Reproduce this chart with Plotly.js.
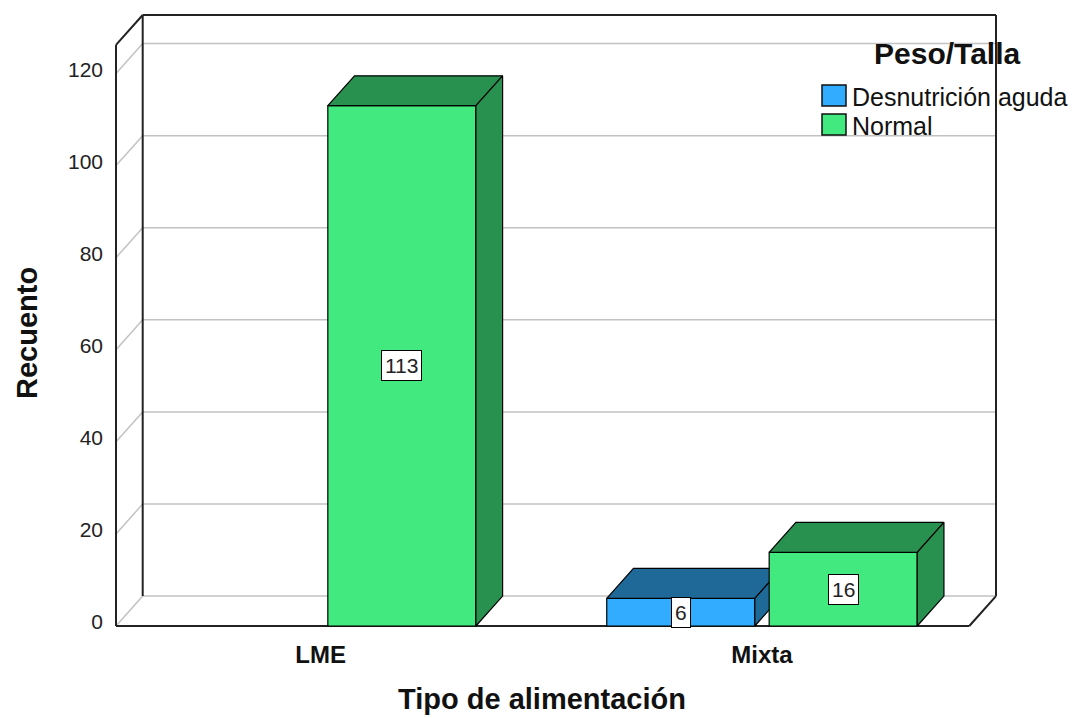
<!DOCTYPE html>
<html>
<head>
<meta charset="utf-8">
<script src="https://cdn.plot.ly/plotly-3.0.1.min.js"></script>
<style>html,body{margin:0;padding:0;background:#fff;}#chart{width:1075px;height:718px;}</style>
</head>
<body>
<div id="chart"></div>
<script>
// ---- data ----
const categories = ['LME', 'Mixta'];
const seriesNames = ['Desnutrición aguda', 'Normal'];
const desnutricionAguda = [0, 6];
const normal = [113, 16];
const yTickValues = [0, 20, 40, 60, 80, 100, 120];
const xAxisTitle = 'Tipo de alimentación';
const yAxisTitle = 'Recuento';
const legendTitle = 'Peso/Talla';

// ---- styling / geometry ----
const FONT = '"Liberation Sans", Arial, Helvetica, sans-serif';
const frontColors = ['#32acfe', '#42e97f'];
const darkColors = ['#1f6998', '#289150'];
const barW = 0.3355;
const centerOffsets = [-0.184, 0.184];
const dx = 0.0605;   // depth in x units
const dy = 6.5;      // depth in y units
const xL = -0.4637, xRf = 1.4697, yTop = 126.2;
const pxX = 441.35, pxY = 4.6043, pad = 4;
const ML = 112, MR = 75, MT = 11, MB = 88;
const PW = 1075 - ML - MR, PH = 718 - MT - MB;
const paperX = px => (px - ML) / PW;
const paperY = py => (718 - MB - py) / PH;

const seriesValues = [desnutricionAguda, normal];
const traces = [];
const annotations = [];

seriesValues.forEach((vals, s) => {
  const z = s + 1;
  const xs = [], ys = [];
  vals.forEach((v, i) => { xs.push(i); ys.push(v > 0 ? v : null); });
  traces.push({
    type: 'bar', name: seriesNames[s], x: xs, y: ys,
    width: barW, offset: centerOffsets[s] - barW / 2, base: 0,
    marker: {color: frontColors[s], line: {color: '#000', width: 1.2}},
    showlegend: false, hoverinfo: 'y+name', zorder: z
  });
  vals.forEach((v, i) => {
    if (!(v > 0)) return;
    const x0 = i + centerOffsets[s] - barW / 2, x1 = x0 + barW;
    // top face
    traces.push({
      type: 'scatter', mode: 'lines', fill: 'toself', fillcolor: darkColors[s],
      x: [x0, x0 + dx, x1 + dx, x1, x0], y: [v, v + dy, v + dy, v, v],
      line: {color: '#000', width: 1.2}, showlegend: false, hoverinfo: 'skip', zorder: z
    });
    // side face
    traces.push({
      type: 'scatter', mode: 'lines', fill: 'toself', fillcolor: darkColors[s],
      x: [x1, x1 + dx, x1 + dx, x1, x1], y: [0, dy, v + dy, v, 0],
      line: {color: '#000', width: 1.2}, showlegend: false, hoverinfo: 'skip', zorder: z
    });
    // value label
    annotations.push({
      x: i + centerOffsets[s], y: v / 2, xref: 'x', yref: 'y', text: String(v),
      showarrow: false, bgcolor: '#fff', bordercolor: '#000', borderwidth: 1, borderpad: 3,
      font: {family: FONT, size: 21, color: '#222'}
    });
  });
});

// ---- frame shapes ----
const shapes = [];
const grey = {color: '#c2c2c2', width: 1.5};
const black = {color: '#222', width: 2};
const line = (x0, y0, x1, y1, l) => ({type: 'line', xref: 'x', yref: 'y', x0, y0, x1, y1, line: l, layer: 'below'});
yTickValues.forEach(t => {
  shapes.push(line(xL + dx, t + dy, xRf + dx, t + dy, grey));
  shapes.push(line(xL, t, xL + dx, t + dy, grey));
});
shapes.push(line(xL + dx, dy, xL + dx, yTop + dy, black));
shapes.push(line(xL + dx, yTop + dy, xRf + dx, yTop + dy, black));
shapes.push(line(xRf + dx, dy, xRf + dx, yTop + dy, black));
shapes.push(line(xL, yTop, xL + dx, yTop + dy, black));
shapes.push(line(xL, 0, xL, yTop, black));
shapes.push(line(xL, 0, xRf, 0, black));
shapes.push(line(xRf, 0, xRf + dx, dy, black));

// ---- manual legend ----
const swatchY = [[85, 106], [114, 135]];
const legendTextY = [97, 126];
seriesNames.forEach((n, s) => {
  shapes.push({type: 'rect', xref: 'paper', yref: 'paper',
    x0: paperX(822), x1: paperX(846), y0: paperY(swatchY[s][1]), y1: paperY(swatchY[s][0]),
    fillcolor: frontColors[s], line: {color: '#111', width: 1.5}, layer: 'above'});
  annotations.push({x: paperX(850), y: paperY(legendTextY[s]), xref: 'paper', yref: 'paper',
    xanchor: 'left', yanchor: 'middle', text: n, showarrow: false,
    font: {family: FONT, size: 25, color: '#111'}});
});
annotations.push({x: paperX(947), y: paperY(54), xref: 'paper', yref: 'paper',
  xanchor: 'center', yanchor: 'middle', text: legendTitle, showarrow: false,
  font: {family: FONT, size: 30, color: '#111', weight: 'bold'}});

// ---- axis titles ----
annotations.push({x: paperX(541.5), y: paperY(699), xref: 'paper', yref: 'paper',
  xanchor: 'center', yanchor: 'middle', text: xAxisTitle, showarrow: false,
  font: {family: FONT, size: 29, color: '#111', weight: 'bold'}});
annotations.push({x: paperX(27), y: paperY(333), xref: 'paper', yref: 'paper',
  xanchor: 'center', yanchor: 'middle', text: yAxisTitle, showarrow: false, textangle: -90,
  font: {family: FONT, size: 29, color: '#111', weight: 'bold'}});

const layout = {
  width: 1075, height: 718,
  margin: {l: ML, r: MR, t: MT, b: MB, pad: 0},
  paper_bgcolor: '#fff', plot_bgcolor: '#fff',
  barmode: 'overlay',
  showlegend: false,
  xaxis: {
    range: [xL - pad / pxX, xRf + dx + pad / pxX],
    tickmode: 'array', tickvals: categories.map((c, i) => i), ticktext: categories,
    showgrid: false, zeroline: false, showline: false, ticks: '',
    ticklabelstandoff: 8,
    tickfont: {family: FONT, size: 24, color: '#111', weight: 'bold'},
    fixedrange: true
  },
  yaxis: {
    range: [-pad / pxY, yTop + dy + pad / pxY],
    tickmode: 'array', tickvals: yTickValues, ticktext: yTickValues.map(String),
    showgrid: false, zeroline: false, showline: false, ticks: '',
    ticklabelstandoff: 8, ticklabelshift: -4,
    tickfont: {family: FONT, size: 21, color: '#222'},
    fixedrange: true
  },
  shapes: shapes,
  annotations: annotations
};

Plotly.newPlot('chart', traces, layout, {displayModeBar: false, staticPlot: true});
</script>
</body>
</html>
